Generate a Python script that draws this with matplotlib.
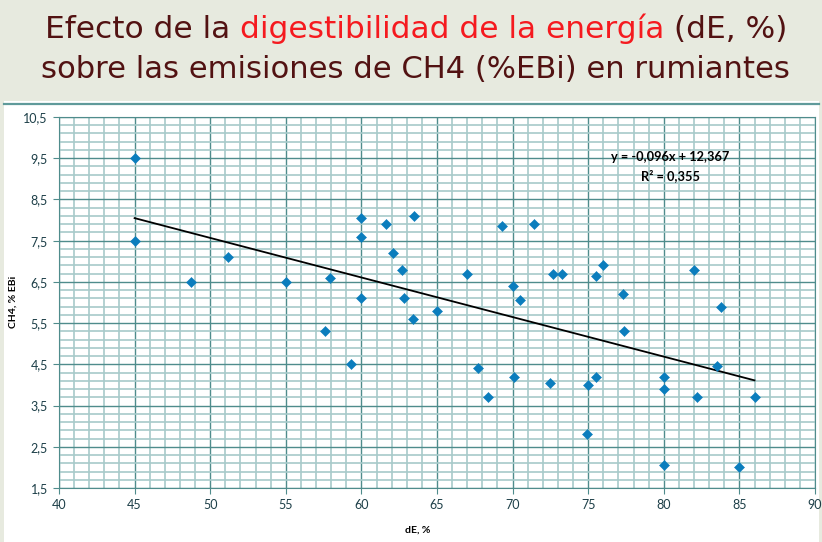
import numpy as np
import matplotlib
matplotlib.use('Agg')
import matplotlib.pyplot as plt
from matplotlib.patches import Rectangle
from matplotlib.lines import Line2D

# datos
dE = [45, 45, 48.7, 51.2, 55, 57.6, 57.9, 59.3, 60, 60, 60, 61.6, 62.1, 62.7,
      62.8, 63.4, 63.5, 65, 67, 67.7, 68.4, 69.3, 70, 70.1, 70.5, 71.4, 72.5,
      72.7, 73.3, 74.9, 75, 75.5, 75.5, 76, 77.3, 77.4, 80, 80, 80, 82, 82.2,
      83.5, 83.8, 85, 86]
ch4 = [9.5, 7.5, 6.5, 7.1, 6.5, 5.3, 6.6, 4.5, 8.05, 7.6, 6.1, 7.9, 7.2, 6.8,
       6.1, 5.6, 8.1, 5.8, 6.7, 4.4, 3.7, 7.85, 6.4, 4.2, 6.05, 7.9, 4.05,
       6.7, 6.7, 2.8, 4.0, 6.65, 4.2, 6.9, 6.2, 5.3, 4.2, 3.9, 2.05, 6.8, 3.7,
       4.45, 5.9, 2.0, 3.7]

pendiente = -0.096
intercepto = 12.367
r2 = 0.355

x_ticks = [40, 45, 50, 55, 60, 65, 70, 75, 80, 85, 90]
y_ticks = [1.5, 2.5, 3.5, 4.5, 5.5, 6.5, 7.5, 8.5, 9.5, 10.5]
y_labels = ['1,5', '2,5', '3,5', '4,5', '5,5', '6,5', '7,5', '8,5', '9,5', '10,5']

titulo1 = [("Efecto de la", '#521212'), ("digestibilidad de la energía", '#f51a1f'),
           ("(dE, %)", '#521212')]
titulo2 = "sobre las emisiones de CH4 (%EBi) en rumiantes"

W, H = 822, 542
fig = plt.figure(figsize=(W / 100, H / 100), dpi=100)
fig.patch.set_facecolor('#e7eadf')

# zona blanca y linea separadora
fig.add_artist(Rectangle((4 / W, 0), 815 / W, 441 / H, transform=fig.transFigure,
                         facecolor='white', edgecolor='none', zorder=-2))
fig.add_artist(Line2D([4 / W, 819 / W], [1 - 104 / H, 1 - 104 / H],
                      color='#5f9a9a', lw=1.6, zorder=-1))

# titulo en dos lineas
r = fig.canvas.get_renderer()
tfont = 'DejaVu Sans'


def ancho(s, fs):
    t = fig.text(0, 0, s, fontsize=fs, family=tfont)
    w = t.get_window_extent(r).width
    t.remove()
    return w


linea1 = " ".join(p[0] for p in titulo1)
fs = 20 * 742 / ancho(linea1, 20)
espacio = ancho("a a", fs) - ancho("aa", fs)
x0 = 416 - ancho(linea1, fs) / 2
for texto, col in titulo1:
    fig.text(x0 / W, 1 - 38 / H, texto, fontsize=fs, family=tfont, color=col,
             va='baseline', ha='left')
    x0 += ancho(texto, fs) + espacio
fs2 = 20 * 749 / ancho(titulo2, 20)
fig.text(415 / W, 1 - 78 / H, titulo2, fontsize=fs2, family=tfont,
         color='#521212', va='baseline', ha='center')

# grafico
ax = fig.add_axes([59 / W, 54 / H, 756 / W, 371 / H])
ax.set_facecolor('white')
ax.set_xlim(40, 90)
ax.set_ylim(1.5, 10.5)
ax.set_xticks(x_ticks)
ax.set_xticklabels([str(v) for v in x_ticks])
ax.set_yticks(y_ticks)
ax.set_yticklabels(y_labels)
ax.set_xticks(np.arange(40, 91, 1), minor=True)
ax.set_yticks(np.arange(1.5, 10.51, 0.2), minor=True)
ax.set_axisbelow(True)
ax.grid(which='minor', color='#a7caca', lw=1.2)
ax.grid(which='major', color='#4f8c8c', lw=1.0)
ax.tick_params(which='minor', length=0)
ax.tick_params(which='major', length=4, color='#4f8c8c', labelsize=9,
               labelcolor='#1d3f48', pad=4)
for lab in ax.get_xticklabels() + ax.get_yticklabels():
    lab.set_family('Lato')
for s in ax.spines.values():
    s.set_color('#4f8c8c')

ax.plot(dE, ch4, ls='none', marker='D', ms=4.6, color='#0b7dbd', mew=0.4, zorder=3)

xs = np.array([min(dE), max(dE)])
ax.plot(xs, pendiente * xs + intercepto, color='black', lw=1.3, zorder=2)

eq = "y = " + f"{pendiente:.3f}".replace('.', ',') + "x + " + f"{intercepto:.3f}".replace('.', ',')
fig.text(670 / W, 1 - 157 / H, eq, ha='center', va='center', fontsize=9.2,
         fontweight='bold', family='Lato', color='black')
fig.text(670 / W, 1 - 176 / H, "R² = " + f"{r2:.3f}".replace('.', ','), ha='center',
         va='center', fontsize=9.2, fontweight='bold', family='Lato', color='black')

fig.text(418 / W, 1 - 530 / H, "dE, %", ha='center', va='center', fontsize=7.5,
         fontweight='bold', family='Lato')
fig.text(13 / W, 1 - 302 / H, "CH4, % EBi", ha='center', va='center', fontsize=7.5,
         fontweight='bold', family='Lato', rotation=90)

fig.savefig('out.png', dpi=100, facecolor=fig.get_facecolor())
